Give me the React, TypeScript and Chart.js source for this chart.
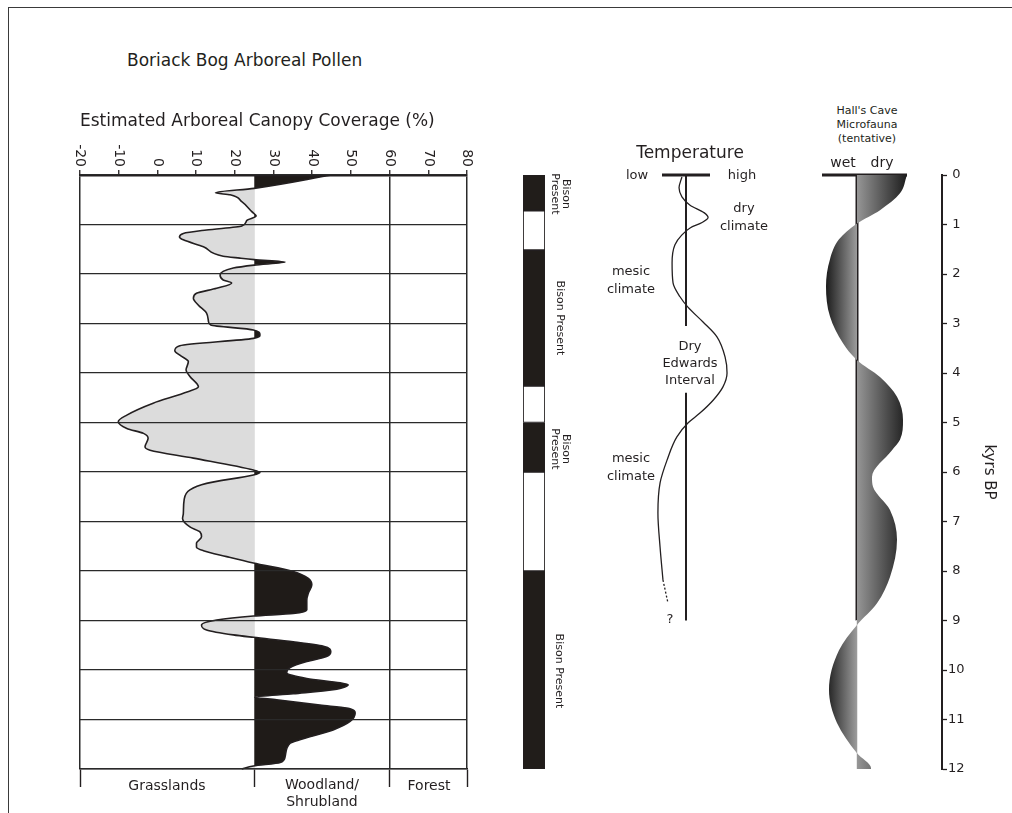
import React, { useEffect, useRef } from "react";
import { Chart, registerables } from "chart.js";

Chart.register(...registerables);

const FONT = '"DejaVu Sans", "Liberation Sans", sans-serif';
const INK = "#231f20";
Chart.defaults.font.family = FONT;
Chart.defaults.color = INK;

// ---------------- data ----------------
// Boriack Bog: estimated arboreal canopy coverage (%) against age (kyrs BP)
const pollenKyr = [
  0.0, 0.27, 0.36, 0.4, 0.54, 0.74, 0.83, 0.92, 1.03, 1.11, 1.18, 1.25, 1.31, 1.45, 1.64, 1.68,
  1.71, 1.76, 1.82, 1.88, 2.02, 2.12, 2.18, 2.29, 2.39, 2.49, 2.63, 2.79, 2.96, 3.03, 3.13, 3.23,
  3.3, 3.45, 3.55, 3.64, 3.77, 3.94, 4.07, 4.28, 4.41, 4.61, 4.85, 4.98, 5.12, 5.22, 5.32, 5.49,
  5.56, 5.72, 5.96, 6.01, 6.06, 6.23, 6.36, 6.57, 6.84, 6.94, 7.11, 7.21, 7.31, 7.44, 7.52, 7.59,
  7.71, 7.84, 8.01, 8.15, 8.28, 8.45, 8.59, 8.79, 8.86, 8.91, 8.99, 9.09, 9.19, 9.29, 9.34, 9.43,
  9.52, 9.63, 9.73, 9.83, 9.95, 10.05, 10.17, 10.26, 10.3, 10.4, 10.48, 10.55, 10.6, 10.71, 10.77,
  10.87, 11.04, 11.21, 11.41, 11.48, 11.75, 11.87, 11.94, 12.0,
];
const pollenCover = [
  45.0, 25.0, 15.0, 18.8, 21.8, 24.4, 25.5, 23.1, 21.8, 12.7, 6.7, 5.7, 6.7, 11.9, 17.0, 21.3,
  25.0, 33.0, 25.0, 19.6, 16.2, 17.0, 19.2, 15.3, 10.1, 9.3, 10.6, 12.7, 13.2, 13.8, 24.8, 26.5,
  24.8, 5.8, 4.5, 5.8, 8.0, 7.4, 8.4, 10.6, 6.7, -1.1, -7.9, -10.1, -7.9, -3.6, -2.4, -3.2,
  -1.9, 9.3, 24.8, 26.5, 24.8, 12.7, 8.4, 6.9, 6.7, 6.5, 8.4, 11.0, 11.4, 10.1, 10.1, 11.9,
  17.9, 24.8, 35.1, 39.0, 39.9, 39.0, 38.6, 38.6, 35.1, 24.8, 15.3, 11.4, 12.7, 19.6, 24.8, 35.1,
  42.9, 44.8, 43.7, 38.6, 34.3, 33.4, 38.6, 47.2, 49.3, 45.4, 35.1, 25.2, 30.8, 42.0, 48.9,
  51.1, 49.8, 45.4, 36.8, 34.3, 33.0, 31.7, 24.8, 21.8,
];
const coverTicks = [-20, -10, 0, 10, 20, 30, 40, 50, 60, 70, 80];
const coverZoneEdges = [-20, 25, 60, 80];
const coverZoneNames = ["Grasslands", "Woodland/\nShrubland", "Forest"];
const coverBaseline = 25;

// Bison record (kyrs BP)
const bisonFrom = [0, 0.72, 1.52, 4.26, 5.0, 6.0, 8.0];
const bisonTo = [0.72, 1.52, 4.26, 5.0, 6.0, 8.0, 12.0];
const bisonPresent = [true, false, true, false, true, false, true];

// Temperature (relative: -1 = low, 1 = high)
const tempKyr = [
  0.04, 0.26, 0.44, 0.61, 0.76, 0.86, 0.96, 1.07, 1.21, 1.41, 1.78, 2.18, 2.46, 2.67, 2.97,
  3.27, 3.68, 4.0, 4.28, 4.55, 4.81, 5.01, 5.29, 5.76, 6.22, 6.83, 7.52, 8.18,
];
const tempLevel = [
  -0.17, -0.29, -0.17, 0.17, 0.75, 0.92, 0.67, 0.17, -0.17, -0.46, -0.58, -0.54, -0.25, 0.08,
  0.71, 1.29, 1.63, 1.71, 1.54, 1.13, 0.58, 0.08, -0.38, -0.79, -1.08, -1.17, -1.08, -0.96,
];
const tempDashKyr = [8.18, 8.65];
const tempDashLevel = [-0.96, -0.75];
const tempScaleEnds = [-1, 1];
const tempAxisBreak = [3.05, 4.4];
const tempAxisEnd = 9;

// Hall's Cave microfauna (negative = wet, positive = dry)
const hallKyr = [
  0, 0.37, 0.71, 0.98, 1.3, 1.7, 2.25, 2.86, 3.4, 3.74, 4.08, 4.48, 4.95, 5.35, 5.56, 6.1,
  6.3, 6.77, 7.37, 8.12, 8.65, 9.09, 9.6, 10.4, 11.07, 11.68, 11.98, 12,
];
const hallMoisture = [
  1.0, 0.86, 0.46, 0, -0.36, -0.54, -0.62, -0.54, -0.28, 0, 0.46, 0.8, 0.92, 0.86, 0.7, 0.3,
  0.32, 0.66, 0.8, 0.66, 0.4, 0, -0.36, -0.56, -0.4, 0, 0.28, 0.28,
];
const hallScaleEnds = [-0.7, 1.0];
const hallAxisEnd = 9;

const kyrTicks = [0, 1, 2, 3, 4, 5, 6, 7, 8, 9, 10, 11, 12];

// ---------------- plugins ----------------
const sideFillPlugin = {
  id: "sideFill",
  beforeDatasetDraw(chart: any, args: any) {
    const ds: any = chart.data.datasets[args.index];
    const cfg = ds && ds.sideFill;
    if (!cfg) return;
    const meta = args.meta;
    const line = meta.dataset;
    if (!line || !line.points || line.points.length < 2) return;
    const ca = chart.chartArea;
    if (typeof line.updateControlPoints === "function") line.updateControlPoints(ca, "y");
    const xs = chart.scales[meta.xAxisID];
    const base = xs.getPixelForValue(cfg.base);
    const pts = line.points;
    const first = pts[0];
    const last = pts[pts.length - 1];
    const ctx = chart.ctx;
    const paint = (x0: number, x1: number, style: any) => {
      ctx.save();
      ctx.beginPath();
      ctx.rect(x0, ca.top - 10, x1 - x0, ca.bottom - ca.top + 20);
      ctx.clip();
      ctx.beginPath();
      ctx.moveTo(first.x, first.y);
      for (let i = 1; i < pts.length; i++) {
        const p = pts[i];
        const q = pts[i - 1];
        if (q.cp2x !== undefined && p.cp1x !== undefined) {
          ctx.bezierCurveTo(q.cp2x, q.cp2y, p.cp1x, p.cp1y, p.x, p.y);
        } else {
          ctx.lineTo(p.x, p.y);
        }
      }
      ctx.lineTo(base, last.y);
      ctx.lineTo(base, first.y);
      ctx.closePath();
      ctx.fillStyle = typeof style === "function" ? style(ctx, xs) : style;
      ctx.fill();
      ctx.restore();
    };
    paint(ca.left - 10, base, cfg.left);
    paint(base, ca.right + 10, cfg.right);
  },
};

const topTickLabelPlugin = {
  id: "topTickLabels",
  afterDraw(chart: any) {
    const s = chart.scales.x;
    const ctx = chart.ctx;
    ctx.save();
    ctx.font = `14px ${FONT}`;
    ctx.fillStyle = INK;
    ctx.textAlign = "right";
    ctx.textBaseline = "middle";
    s.ticks.forEach((t: any) => {
      const px = s.getPixelForValue(t.value);
      ctx.save();
      ctx.translate(px, s.bottom - 8);
      ctx.rotate(Math.PI / 2);
      ctx.fillText(String(t.value), 0, 0);
      ctx.restore();
    });
    ctx.restore();
  },
};

const common = {
  animation: false as const,
  responsive: false,
  events: [] as any[],
  plugins: { legend: { display: false }, tooltip: { enabled: false } },
};

const kyrScaleHidden = { type: "linear", display: false, min: 0, max: 12, reverse: true };

function pts(ys: number[], xs: number[]) {
  return ys.map((y, i) => ({ x: xs[i], y }));
}

// ---------------- configs ----------------
function pollenConfig(): any {
  return {
    type: "line",
    data: {
      datasets: [
        {
          data: pts(pollenKyr, pollenCover),
          borderColor: INK,
          borderWidth: 1.6,
          pointRadius: 0,
          cubicInterpolationMode: "monotone",
          fill: false,
          clip: false,
          sideFill: { base: coverBaseline, left: "#dcdcdc", right: "#1f1b18" },
        },
      ],
    },
    options: {
      ...common,
      indexAxis: "y",
      layout: { padding: { left: 60, right: 43, top: 15, bottom: 23 } },
      scales: {
        x: {
          type: "linear",
          position: "top",
          min: coverTicks[0],
          max: coverTicks[coverTicks.length - 1],
          afterBuildTicks: (s: any) => {
            s.ticks = coverTicks.map((v) => ({ value: v }));
          },
          ticks: { display: false },
          grid: {
            z: 1,
            color: (c: any) => {
              const v = c.tick && c.tick.value;
              if (v === coverBaseline) return INK;
              if (coverZoneEdges.includes(v)) return "#2a2a2a";
              return "rgba(0,0,0,0)";
            },
            lineWidth: (c: any) => (c.tick && c.tick.value === coverBaseline ? 2.5 : 1.5),
            drawTicks: true,
            tickLength: 5,
            tickColor: INK,
            tickWidth: 1.3,
          },
          border: { display: true, color: INK, width: 2.5, z: 1 },
          afterFit: (s: any) => {
            s.height = 40;
          },
        },
        x2: {
          type: "linear",
          position: "bottom",
          min: coverTicks[0],
          max: coverTicks[coverTicks.length - 1],
          afterBuildTicks: (s: any) => {
            s.ticks = coverZoneEdges.map((v) => ({ value: v }));
          },
          ticks: { display: false },
          grid: {
            drawOnChartArea: false,
            drawTicks: true,
            tickLength: 18,
            tickColor: INK,
            tickWidth: 1.4,
          },
          border: { display: true, color: INK, width: 1.6, z: 1 },
          afterFit: (s: any) => {
            s.height = 18;
          },
        },
        y: {
          type: "linear",
          position: "left",
          reverse: true,
          min: 0,
          max: 12,
          afterBuildTicks: (s: any) => {
            s.ticks = kyrTicks.map((v) => ({ value: v }));
          },
          ticks: { display: false },
          grid: { z: 1, color: "#2a2a2a", lineWidth: 1.2, drawTicks: false },
          border: { display: false },
          afterFit: (s: any) => {
            s.width = 0;
          },
        },
      },
    },
    plugins: [sideFillPlugin, topTickLabelPlugin],
  };
}

function bisonConfig(): any {
  return {
    type: "bar",
    data: {
      labels: ["Bison"],
      datasets: bisonFrom.map((f, i) => ({
        data: [[f, bisonTo[i]]],
        backgroundColor: bisonPresent[i] ? "#211d1a" : "#ffffff",
        borderColor: INK,
        borderWidth: 1.2,
        borderSkipped: false,
        barPercentage: 1,
        categoryPercentage: 1,
        grouped: false,
      })),
    },
    options: {
      ...common,
      layout: { padding: { left: 13, right: 35, top: 15, bottom: 21 } },
      scales: { x: { display: false }, y: kyrScaleHidden },
    },
  };
}

function tempConfig(): any {
  const seg = (data: any[], w: number, extra: any = {}) => ({
    data,
    borderColor: INK,
    borderWidth: w,
    pointRadius: 0,
    fill: false,
    clip: false,
    ...extra,
  });
  return {
    type: "line",
    data: {
      datasets: [
        seg(
          [
            { x: tempScaleEnds[0], y: 0 },
            { x: tempScaleEnds[1], y: 0 },
          ],
          3
        ),
        seg(
          [
            { x: 0, y: 0 },
            { x: 0, y: tempAxisBreak[0] },
          ],
          2
        ),
        seg(
          [
            { x: 0, y: tempAxisBreak[1] },
            { x: 0, y: tempAxisEnd },
          ],
          2
        ),
        seg(pts(tempKyr, tempLevel), 1.3, { cubicInterpolationMode: "monotone" }),
        seg(pts(tempDashKyr, tempDashLevel), 1.3, { borderDash: [2, 2] }),
      ],
    },
    options: {
      ...common,
      indexAxis: "y",
      layout: { padding: { left: 60, right: 36, top: 15, bottom: 21 } },
      scales: {
        x: { type: "linear", display: false, min: -1.5, max: 2.0 },
        y: kyrScaleHidden,
      },
    },
  };
}

function hallConfig(): any {
  const lo = Math.min(...hallMoisture);
  const hi = Math.max(...hallMoisture);
  const seg = (data: any[], w: number, color: string) => ({
    data,
    borderColor: color,
    borderWidth: w,
    pointRadius: 0,
    fill: false,
    clip: false,
  });
  return {
    type: "line",
    data: {
      datasets: [
        {
          data: pts(hallKyr, hallMoisture),
          borderColor: "rgba(0,0,0,0)",
          borderWidth: 0,
          pointRadius: 0,
          fill: false,
          clip: false,
          cubicInterpolationMode: "monotone",
          sideFill: {
            base: 0,
            left: (ctx: CanvasRenderingContext2D, xs: any) => {
              const g = ctx.createLinearGradient(xs.getPixelForValue(lo), 0, xs.getPixelForValue(0), 0);
              g.addColorStop(0, "#1c1c1c");
              g.addColorStop(1, "#9c9c9c");
              return g;
            },
            right: (ctx: CanvasRenderingContext2D, xs: any) => {
              const g = ctx.createLinearGradient(xs.getPixelForValue(0), 0, xs.getPixelForValue(hi), 0);
              g.addColorStop(0, "#969696");
              g.addColorStop(1, "#1c1c1c");
              return g;
            },
          },
        },
        seg(
          [
            { x: 0, y: hallAxisEnd },
            { x: 0, y: 12 },
          ],
          1,
          "#e4e4e4"
        ),
        seg(
          [
            { x: 0, y: 0 },
            { x: 0, y: hallAxisEnd },
          ],
          3,
          INK
        ),
        seg(
          [
            { x: hallScaleEnds[0], y: 0 },
            { x: hallScaleEnds[1], y: 0 },
          ],
          3,
          INK
        ),
      ],
    },
    options: {
      ...common,
      indexAxis: "y",
      layout: { padding: { left: 32, right: 10, top: 15, bottom: 21 } },
      scales: {
        x: { type: "linear", display: false, min: -0.7, max: 1.7 },
        y: {
          type: "linear",
          position: "right",
          min: 0,
          max: 12,
          reverse: true,
          afterBuildTicks: (s: any) => {
            s.ticks = kyrTicks.map((v) => ({ value: v }));
          },
          ticks: { color: INK, font: { family: FONT, size: 13 }, padding: 1, crossAlign: "center" },
          grid: {
            drawOnChartArea: false,
            drawTicks: true,
            tickLength: 5,
            tickColor: INK,
            tickWidth: 1.3,
          },
          border: { display: true, color: INK, width: 2 },
          title: {
            display: true,
            text: "kyrs BP",
            color: INK,
            font: { family: FONT, size: 15 },
            padding: { top: 4, bottom: 4 },
          },
          afterFit: (s: any) => {
            s.width = 60;
          },
        },
      },
    },
    plugins: [sideFillPlugin],
  };
}

// ---------------- labels ----------------
type Lbl = { t: string; x: number; y: number; size: number; rot?: number; left?: boolean; lh?: number };

const labels: Lbl[] = [
  { t: "Boriack Bog Arboreal Pollen", x: 127, y: 60, size: 17, left: true },
  { t: "Estimated Arboreal Canopy Coverage (%)", x: 80, y: 120, size: 17, left: true },
  { t: coverZoneNames[0], x: 167, y: 785, size: 14 },
  { t: coverZoneNames[1], x: 322, y: 793, size: 14, lh: 17 },
  { t: coverZoneNames[2], x: 429, y: 785, size: 14 },
  { t: "Bison\nPresent", x: 561, y: 194, size: 11, rot: 90, lh: 11 },
  { t: "Bison Present", x: 560, y: 318, size: 11, rot: 90 },
  { t: "Bison\nPresent", x: 561, y: 449, size: 11, rot: 90, lh: 11 },
  { t: "Bison Present", x: 559, y: 671, size: 11, rot: 90 },
  { t: "Temperature", x: 690, y: 152, size: 17 },
  { t: "low", x: 637, y: 175, size: 13 },
  { t: "high", x: 742, y: 175, size: 13 },
  { t: "dry\nclimate", x: 744, y: 217, size: 13, lh: 18 },
  { t: "mesic\nclimate", x: 631, y: 280, size: 13, lh: 18 },
  { t: "Dry\nEdwards\nInterval", x: 690, y: 362, size: 13, lh: 17 },
  { t: "mesic\nclimate", x: 631, y: 467, size: 13, lh: 18 },
  { t: "?", x: 670, y: 619, size: 13 },
  { t: "Hall's Cave\nMicrofauna\n(tentative)", x: 867, y: 125, size: 11, lh: 14 },
  { t: "wet", x: 843, y: 162, size: 14 },
  { t: "dry", x: 882, y: 162, size: 14 },
];

function Label({ l }: { l: Lbl }) {
  const tr = l.left ? "translate(0,-50%)" : `translate(-50%,-50%) rotate(${l.rot || 0}deg)`;
  return (
    <div
      style={{
        position: "absolute",
        left: l.x,
        top: l.y,
        transform: tr,
        font: `${l.size}px ${FONT}`,
        lineHeight: `${l.lh || Math.round(l.size * 1.2)}px`,
        color: INK,
        whiteSpace: "pre",
        textAlign: l.left ? "left" : "center",
      }}
    >
      {l.t}
    </div>
  );
}

const boxes = {
  pollen: { left: 20, top: 120, width: 490, height: 690 },
  bison: { left: 510, top: 160, width: 70, height: 630 },
  temp: { left: 590, top: 160, width: 180, height: 630 },
  hall: { left: 790, top: 160, width: 222, height: 630 },
};

export default function App() {
  const pollenRef = useRef<HTMLCanvasElement>(null);
  const bisonRef = useRef<HTMLCanvasElement>(null);
  const tempRef = useRef<HTMLCanvasElement>(null);
  const hallRef = useRef<HTMLCanvasElement>(null);

  useEffect(() => {
    const charts: Chart[] = [];
    if (pollenRef.current) charts.push(new Chart(pollenRef.current, pollenConfig()));
    if (bisonRef.current) charts.push(new Chart(bisonRef.current, bisonConfig()));
    if (tempRef.current) charts.push(new Chart(tempRef.current, tempConfig()));
    if (hallRef.current) charts.push(new Chart(hallRef.current, hallConfig()));
    return () => charts.forEach((c) => c.destroy());
  }, []);

  const cv = (ref: any, b: any) => (
    <canvas
      ref={ref}
      width={b.width}
      height={b.height}
      style={{ position: "absolute", left: b.left, top: b.top, width: b.width, height: b.height }}
    />
  );

  return (
    <div
      style={{
        position: "absolute",
        left: 0,
        top: 0,
        width: 1012,
        height: 813,
        overflow: "hidden",
        background: "#ffffff",
        fontFamily: FONT,
      }}
    >
      <div
        style={{
          position: "absolute",
          left: 8,
          top: 7,
          width: 1100,
          height: 900,
          borderLeft: "1.5px solid #3a3a3a",
          borderTop: "1.5px solid #3a3a3a",
        }}
      />
      {cv(pollenRef, boxes.pollen)}
      {cv(bisonRef, boxes.bison)}
      {cv(tempRef, boxes.temp)}
      {cv(hallRef, boxes.hall)}
      {labels.map((l, i) => (
        <Label key={i} l={l} />
      ))}
    </div>
  );
}
